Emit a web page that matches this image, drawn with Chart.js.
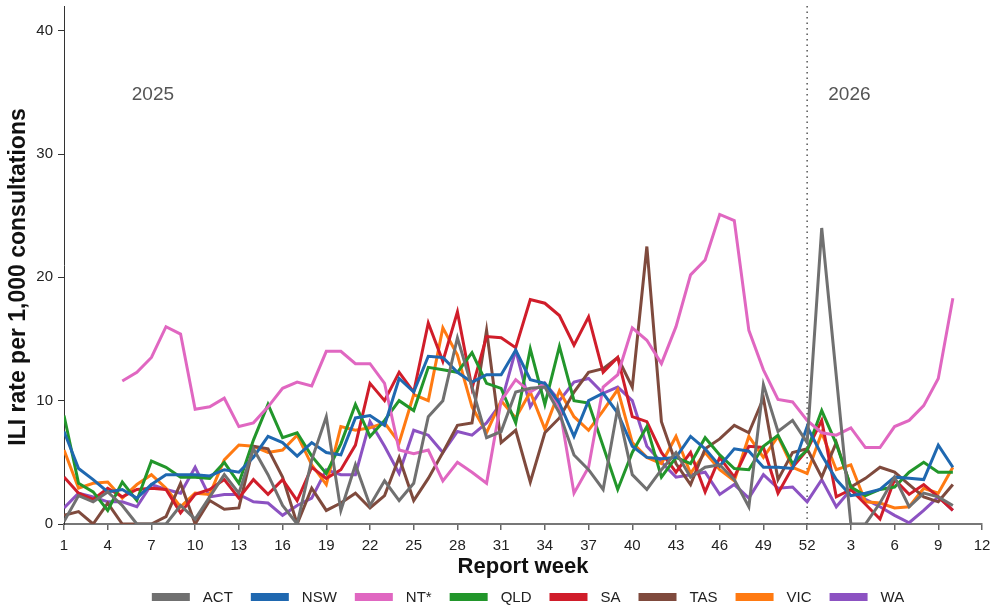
<!DOCTYPE html>
<html><head><meta charset="utf-8">
<script src="https://cdn.jsdelivr.net/npm/chart.js@4/dist/chart.umd.min.js"></script>
<style>html,body{margin:0;padding:0;background:#fff}</style>
</head><body>
<canvas id="c" width="992" height="609" style="display:block;width:992px;height:609px"></canvas>
<script>
const weekLabels = ['1','2','3','4','5','6','7','8','9','10','11','12','13','14','15','16','17','18','19','20','21','22','23','24','25','26','27','28','29','30','31','32','33','34','35','36','37','38','39','40','41','42','43','44','45','46','47','48','49','50','51','52','1','2','3','4','5','6','7','8','9','10','11','12'];
const seriesNames = ['ACT','NSW','NT*','QLD','SA','TAS','VIC','WA'];
const seriesColors = ['#707070','#1f68b0','#e067c1','#22962b','#d01d2a','#7f4a3d','#ff7a12','#8c52c2'];
const yearLabels = ['2025','2026'];
const yTitle = 'ILI rate per 1,000 consultations';

const ACT = [0.2,2.3,1.8,2.6,1.5,0,0,0,1.5,0.4, 2.2,4.0,2.5,6.1,4.0,1.5,0,5.2,8.7,1.1, 4.8,1.5,3.5,1.9,3.3,8.7,10.0,15.1,11.1,7.0, 7.5,10.7,11.0,11.1,9.0,5.6,4.4,2.8,9.4,4.0, 2.8,4.4,5.8,3.8,4.6,4.8,3.6,1.4,11.3,7.5, 8.4,6.6,24.0,12.0,0,0,1.7,3.8,1.4,2.5, 2.2,1.5];
const NSW = [7.5,4.5,3.6,2.6,2.8,2.1,3.2,4.0,4.0,4.0, 3.9,4.4,4.2,5.4,7.1,6.6,5.5,6.6,5.8,5.6, 8.6,8.8,8.0,11.8,10.7,13.6,13.5,12.3,11.5,12.1, 12.1,14.1,11.7,11.4,9.8,7.1,10.0,10.6,9.0,6.3, 5.4,5.3,5.4,7.1,6.1,4.7,6.1,5.9,4.6,4.6, 4.5,7.9,5.6,3.6,2.3,2.5,2.8,3.8,3.7,3.6, 6.4,4.6];
const NT = [null,null,null,null,11.6,12.3,13.5,16.0,15.4,9.3, 9.5,10.2,7.9,8.2,9.5,11.0,11.5,11.2,14.0,14.0, 13.0,13.0,11.4,6.0,5.7,6.0,3.5,5.0,4.2,3.3, 10.0,11.7,10.7,11.4,9.5,2.5,4.6,11.1,12.1,15.9, 14.9,13.0,16.0,20.2,21.4,25.1,24.6,15.7,12.5,10.1, 9.9,8.4,7.4,7.2,7.8,6.2,6.2,7.9,8.4,9.6, 11.8,18.3];
const QLD = [8.8,3.3,2.6,1.1,3.4,1.9,5.1,4.6,3.8,3.8, 3.7,5.0,3.3,6.8,9.7,7.0,7.4,5.5,4.1,6.5, 9.7,7.1,8.4,10.0,9.2,12.7,12.5,12.3,13.9,11.4, 11.0,8.2,14.2,9.7,14.4,10.0,9.8,6.3,2.8,5.8, 7.9,3.8,5.4,4.9,7.0,5.6,4.5,4.4,6.3,7.2, 4.9,6.0,9.2,6.5,3.0,2.3,2.8,3.0,4.2,5.0, 4.2,4.2];
const SA = [3.8,2.5,2.0,2.9,2.2,2.8,2.9,2.8,0.9,2.4, 2.8,3.6,2.1,3.6,2.4,3.6,1.9,4.6,3.7,4.4, 6.4,11.4,10.0,12.3,10.7,16.3,13.2,17.2,11.0,15.2, 15.1,14.3,18.2,17.9,16.9,14.5,16.8,12.3,13.5,8.7, 8.3,5.8,4.2,5.8,2.6,5.4,3.8,6.3,6.2,2.5, 4.6,6.0,8.4,2.2,2.8,1.6,0.4,3.6,2.4,3.2, 2.2,1.1];
const TAS = [0.7,1.0,0,1.7,0,0,0,0.6,3.3,0, 1.9,1.2,1.3,6.3,6.1,3.8,0,2.9,1.1,1.7, 2.5,1.3,2.3,5.4,1.9,3.7,5.8,8.0,8.2,15.7, 6.6,7.6,3.4,7.4,8.6,10.7,12.3,12.6,13.5,11.1, 22.5,8.3,4.9,3.2,6.1,6.9,8.0,7.4,10.2,3.6, 5.8,6.1,3.8,6.6,3.0,3.7,4.6,4.2,3.2,2.2, 1.8,3.2];
const VIC = [6.0,2.9,3.3,3.4,2.1,3.2,4.0,2.9,1.4,2.5, 2.4,5.2,6.4,6.3,5.8,6.0,7.2,4.8,3.2,7.9, 7.6,7.8,8.2,6.6,10.5,10.0,15.9,13.7,9.5,7.4, 10.0,8.6,10.7,7.7,10.8,8.7,7.6,9.2,10.9,6.6, 5.4,4.9,7.1,4.1,5.8,4.4,3.5,7.1,5.4,7.1, 4.6,4.1,7.4,4.4,4.8,1.8,1.7,1.3,1.4,2.9, 2.5,4.6];
const WA = [1.3,2.5,2.2,1.8,1.8,1.4,3.2,2.8,2.5,4.6, 2.2,2.4,2.4,1.8,1.7,0.7,1.5,2.1,4.4,4.0, 4.0,8.3,6.3,4.1,7.6,7.2,5.8,7.5,7.2,8.2, 9.8,14.1,9.5,11.4,10.0,11.5,11.8,10.6,11.1,10.0, 6.3,5.0,3.8,4.0,4.2,2.4,3.2,2.1,4.0,2.9, 3.0,1.8,3.6,1.4,2.8,2.0,1.4,0.7,0.1,1.1, 2.2,1.1];
const seriesValues = [ACT, NSW, NT, QLD, SA, TAS, VIC, WA];

const FONT = "'Liberation Sans', Arial, sans-serif";

const datasets = seriesNames.map((name, k) => ({
  label: name,
  data: seriesValues[k].map((v, i) => ({x: i, y: v})),
  borderColor: seriesColors[k],
  backgroundColor: seriesColors[k],
  borderWidth: 3,
  pointRadius: 0,
  tension: 0,
  spanGaps: false
}));

const yearPlugin = {
  id: 'yearPlugin',
  beforeDatasetsDraw(chart) {
    const {ctx, chartArea, scales: {x, y}} = chart;
    const xb = x.getPixelForValue(51);
    ctx.save();
    ctx.strokeStyle = '#555';
    ctx.lineWidth = 1.5;
    ctx.setLineDash([1.5, 4]);
    ctx.beginPath();
    ctx.moveTo(xb, chartArea.top);
    ctx.lineTo(xb, chartArea.bottom);
    ctx.stroke();
    ctx.setLineDash([]);
    ctx.fillStyle = '#555';
    ctx.font = "19px " + FONT;
    ctx.textAlign = 'center';
    ctx.textBaseline = 'middle';
    ctx.fillText(yearLabels[0], x.getPixelForValue(6.1), y.getPixelForValue(34.8));
    ctx.fillText(yearLabels[1], x.getPixelForValue(53.9), y.getPixelForValue(34.8));
    ctx.restore();
  },
  afterDraw(chart) {
    const {ctx} = chart;
    ctx.save();
    ctx.translate(19, 277);
    ctx.rotate(-Math.PI / 2);
    ctx.fillStyle = '#111';
    ctx.font = "bold 23px " + FONT;
    ctx.textAlign = 'center';
    ctx.textBaseline = 'middle';
    ctx.fillText(yTitle, 0, 0);
    ctx.restore();
  }
};

const legendPlugin = {
  id: 'customLegend',
  afterDraw(chart) {
    const {ctx, chartArea} = chart;
    const boxW = 38, boxH = 8, gap = 13, spacing = 18, cy = 597;
    ctx.save();
    ctx.font = "15px " + FONT;
    const widths = chart.data.datasets.map(d => ctx.measureText(d.label).width);
    const total = widths.reduce((a, w) => a + boxW + gap + w, 0) + spacing * (widths.length - 1);
    let x = (chartArea.left + chartArea.right) / 2 + 5 - total / 2;
    ctx.textBaseline = 'middle';
    ctx.textAlign = 'left';
    chart.data.datasets.forEach((d, i) => {
      ctx.fillStyle = d.borderColor;
      ctx.fillRect(x, cy - boxH / 2, boxW, boxH);
      ctx.fillStyle = '#222';
      ctx.fillText(d.label, x + boxW + gap, cy + 1);
      x += boxW + gap + widths[i] + spacing;
    });
    ctx.restore();
  }
};

new Chart(document.getElementById('c'), {
  type: 'line',
  data: {datasets},
  plugins: [yearPlugin, legendPlugin],
  options: {
    responsive: false,
    devicePixelRatio: 1,
    animation: false,
    layout: {padding: {top: 6, right: 10, left: 0, bottom: 25}},
    plugins: {
      tooltip: {enabled: false},
      legend: {display: false}
    },
    scales: {
      x: {
        type: 'linear', min: 0, max: 63,
        afterFit(s) { s.height = 60; s.paddingRight = 0; s.paddingLeft = 0; },
        ticks: {stepSize: 3, autoSkip: false, maxRotation: 0, padding: 7,
          font: {size: 15, family: FONT}, color: '#222',
          callback: (v) => weekLabels[v]},
        grid: {display: true, drawOnChartArea: false, drawTicks: true, tickLength: 6, tickColor: '#666', lineWidth: 1.5},
        border: {display: true, color: '#777', width: 2},
        title: {display: true, text: 'Report week', color: '#111',
          font: {size: 22, weight: 'bold', family: FONT}, padding: {top: 2, bottom: 4}}
      },
      y: {
        min: 0, max: 42,
        afterFit(s) { s.width = 64; s.paddingTop = 0; s.paddingBottom = 0; },
        afterBuildTicks(s) { s.ticks = s.ticks.filter(t => t.value % 10 === 0); },
        ticks: {stepSize: 10, padding: 5, font: {size: 15, family: FONT}, color: '#222'},
        grid: {display: true, drawOnChartArea: false, drawTicks: true, tickLength: 6, tickColor: '#333'},
        border: {display: true, color: '#333', width: 1},
        title: {display: false}
      }
    }
  }
});
</script>
</body></html>
